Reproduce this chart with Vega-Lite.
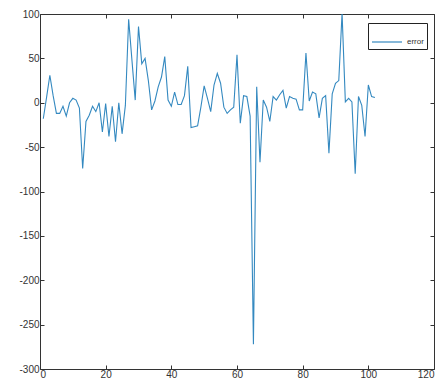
{
  "$schema": "https://vega.github.io/schema/vega-lite/v6.json",
  "width": 394,
  "height": 355,
  "autosize": {"type": "none"},
  "padding": {"left": 40, "top": 14, "right": 12, "bottom": 14},
  "background": "white",
  "config": {
    "view": {"stroke": null},
    "axis": {"grid": false, "domainColor": "#333", "tickColor": "#333", "labelColor": "#333", "labelFont": "Liberation Sans", "labelFontSize": 10, "tickSize": -4, "domainWidth": 1, "tickWidth": 1},
    "legend": {"labelFont": "Liberation Sans", "labelFontSize": 8, "labelColor": "#333"}
  },
  "data": {"values": [
    {"x":1,"y":-18,"s":"error"},{"x":2,"y":6,"s":"error"},{"x":3,"y":31,"s":"error"},{"x":4,"y":8,"s":"error"},{"x":5,"y":-12,"s":"error"},
    {"x":6,"y":-12,"s":"error"},{"x":7,"y":-4,"s":"error"},{"x":8,"y":-15,"s":"error"},{"x":9,"y":0,"s":"error"},{"x":10,"y":5,"s":"error"},
    {"x":11,"y":3,"s":"error"},{"x":12,"y":-6,"s":"error"},{"x":13,"y":-74,"s":"error"},{"x":14,"y":-21,"s":"error"},{"x":15,"y":-14,"s":"error"},
    {"x":16,"y":-4,"s":"error"},{"x":17,"y":-10,"s":"error"},{"x":18,"y":0,"s":"error"},{"x":19,"y":-33,"s":"error"},{"x":20,"y":-1,"s":"error"},
    {"x":21,"y":-38,"s":"error"},{"x":22,"y":-4,"s":"error"},{"x":23,"y":-44,"s":"error"},{"x":24,"y":0,"s":"error"},{"x":25,"y":-35,"s":"error"},
    {"x":26,"y":-3,"s":"error"},{"x":27,"y":94,"s":"error"},{"x":28,"y":48,"s":"error"},{"x":29,"y":3,"s":"error"},{"x":30,"y":86,"s":"error"},
    {"x":31,"y":44,"s":"error"},{"x":32,"y":50,"s":"error"},{"x":33,"y":25,"s":"error"},{"x":34,"y":-8,"s":"error"},{"x":35,"y":2,"s":"error"},
    {"x":36,"y":18,"s":"error"},{"x":37,"y":29,"s":"error"},{"x":38,"y":52,"s":"error"},{"x":39,"y":3,"s":"error"},{"x":40,"y":-4,"s":"error"},
    {"x":41,"y":12,"s":"error"},{"x":42,"y":-2,"s":"error"},{"x":43,"y":-2,"s":"error"},{"x":44,"y":8,"s":"error"},{"x":45,"y":41,"s":"error"},
    {"x":46,"y":-28,"s":"error"},{"x":47,"y":-27,"s":"error"},{"x":48,"y":-26,"s":"error"},{"x":49,"y":-5,"s":"error"},{"x":50,"y":19,"s":"error"},
    {"x":51,"y":5,"s":"error"},{"x":52,"y":-10,"s":"error"},{"x":53,"y":20,"s":"error"},{"x":54,"y":33,"s":"error"},{"x":55,"y":22,"s":"error"},
    {"x":56,"y":-5,"s":"error"},{"x":57,"y":-12,"s":"error"},{"x":58,"y":-8,"s":"error"},{"x":59,"y":-5,"s":"error"},{"x":60,"y":54,"s":"error"},
    {"x":61,"y":-23,"s":"error"},{"x":62,"y":8,"s":"error"},{"x":63,"y":7,"s":"error"},{"x":64,"y":-15,"s":"error"},{"x":65,"y":-272,"s":"error"},
    {"x":66,"y":18,"s":"error"},{"x":67,"y":-67,"s":"error"},{"x":68,"y":3,"s":"error"},{"x":69,"y":-5,"s":"error"},{"x":70,"y":-21,"s":"error"},
    {"x":71,"y":7,"s":"error"},{"x":72,"y":3,"s":"error"},{"x":73,"y":9,"s":"error"},{"x":74,"y":14,"s":"error"},{"x":75,"y":-6,"s":"error"},
    {"x":76,"y":7,"s":"error"},{"x":77,"y":5,"s":"error"},{"x":78,"y":4,"s":"error"},{"x":79,"y":-8,"s":"error"},{"x":80,"y":-8,"s":"error"},
    {"x":81,"y":56,"s":"error"},{"x":82,"y":2,"s":"error"},{"x":83,"y":12,"s":"error"},{"x":84,"y":10,"s":"error"},{"x":85,"y":-17,"s":"error"},
    {"x":86,"y":5,"s":"error"},{"x":87,"y":8,"s":"error"},{"x":88,"y":-57,"s":"error"},{"x":89,"y":10,"s":"error"},{"x":90,"y":22,"s":"error"},
    {"x":91,"y":25,"s":"error"},{"x":92,"y":101,"s":"error"},{"x":93,"y":1,"s":"error"},{"x":94,"y":5,"s":"error"},{"x":95,"y":1,"s":"error"},
    {"x":96,"y":-80,"s":"error"},{"x":97,"y":7,"s":"error"},{"x":98,"y":-3,"s":"error"},{"x":99,"y":-38,"s":"error"},{"x":100,"y":20,"s":"error"},
    {"x":101,"y":7,"s":"error"},{"x":102,"y":6,"s":"error"}
  ]},
  "layer": [
    {
      "mark": {"type": "line", "strokeWidth": 1.1, "clip": true},
      "encoding": {
        "x": {"field": "x", "type": "quantitative", "scale": {"domain": [0, 120], "nice": false}, "axis": {"orient": "bottom", "title": null, "values": [0,20,40,60,80,100,120], "labelPadding": 4, "labelExpr": "'' + datum.value"}},
        "y": {"field": "y", "type": "quantitative", "scale": {"domain": [-300, 100], "nice": false}, "axis": {"orient": "left", "title": null, "values": [-300,-250,-200,-150,-100,-50,0,50,100], "labelPadding": 5, "labelExpr": "'' + datum.value"}},
        "color": {"field": "s", "type": "nominal", "scale": {"domain": ["error"], "range": ["#3489c0"]},
          "legend": {"title": null, "orient": "none", "legendX": 328, "legendY": 9, "symbolType": "stroke", "symbolSize": 900, "symbolStrokeWidth": 1.2, "strokeColor": "#222", "fillColor": "white", "padding": 3, "labelOffset": 4, "rowPadding": 0}}
      }
    },
    {
      "mark": {"type": "line", "strokeOpacity": 0},
      "encoding": {
        "x": {"field": "x", "type": "quantitative", "axis": {"orient": "top", "title": null, "labels": false, "values": [0,20,40,60,80,100,120]}},
        "y": {"field": "y", "type": "quantitative", "axis": {"orient": "right", "title": null, "labels": false, "values": [-300,-250,-200,-150,-100,-50,0,50,100]}}
      }
    }
  ],
  "resolve": {"axis": {"x": "independent", "y": "independent"}}
}
